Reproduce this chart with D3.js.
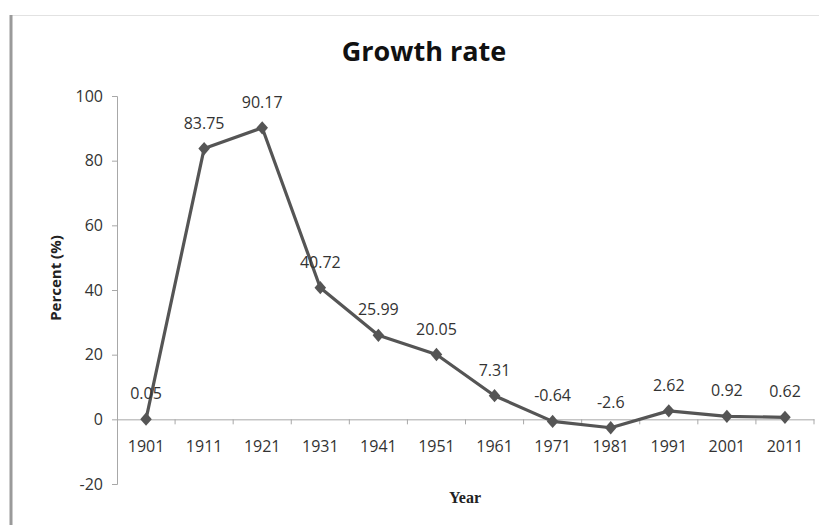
<!DOCTYPE html>
<html><head><meta charset="utf-8">
<script src="https://cdn.jsdelivr.net/npm/d3@7"></script>
<style>body{margin:0;background:#fff}svg{display:block}</style>
</head><body>
<svg id="c" width="819" height="525"></svg>
<script>
const years = ["1901","1911","1921","1931","1941","1951","1961","1971","1981","1991","2001","2011"];
const growth = [0.05,83.75,90.17,40.72,25.99,20.05,7.31,-0.64,-2.6,2.62,0.92,0.62];
const yTicks = [-20,0,20,40,60,80,100];

const svg = d3.select("#c");
const font = "'Open Sans','Noto Sans',sans-serif";
// frame
svg.append("line").attr("x1",11).attr("x2",819).attr("y1",15.5).attr("y2",15.5).attr("stroke","#e2e2e2").attr("stroke-width",1);
svg.append("line").attr("x1",11).attr("x2",11).attr("y1",15).attr("y2",525).attr("stroke","#9a9a9a").attr("stroke-width",3);

const x = d3.scaleBand().domain(years).range([117,814]);
const y = d3.scaleLinear().domain([-20,100]).range([484,96]);

const ya = svg.append("g").attr("transform","translate(117,0)")
  .call(d3.axisLeft(y).tickValues(yTicks).tickFormat(d=>String(d)).tickSize(5).tickPadding(9));
ya.select(".domain").attr("stroke","#a8a8a8");
ya.selectAll(".tick line").attr("stroke","#a8a8a8");
ya.selectAll(".tick text").attr("font-family",font).attr("font-size",16).attr("fill","#333");

const xa = svg.append("g").attr("transform",`translate(0,${y(0)})`)
  .call(d3.axisBottom(x).tickSize(0).tickPadding(21));
xa.select(".domain").attr("stroke","#a8a8a8");
xa.selectAll(".tick text").attr("font-family",font).attr("font-size",16).attr("fill","#333");
// tick marks between categories
const bounds = years.map(d=>x(d)).concat([x.range()[1]]).slice(1);
xa.selectAll(".sep").data(bounds).enter().append("line")
  .attr("x1",d=>d).attr("x2",d=>d).attr("y1",0).attr("y2",5).attr("stroke","#a8a8a8");

const cx = d => x(d) + x.bandwidth()/2;
const line = d3.line().x((d,i)=>cx(years[i])).y(d=>y(d));
svg.append("path").datum(growth).attr("d",line).attr("fill","none")
  .attr("stroke","#555").attr("stroke-width",3.2).attr("stroke-linejoin","round");
svg.selectAll(".pt").data(growth).enter().append("path")
  .attr("d",d3.symbol(d3.symbolDiamond2,85)())
  .attr("transform",(d,i)=>`translate(${cx(years[i])},${y(d)}) scale(1,1.15)`)
  .attr("fill","#555");
svg.selectAll(".lbl").data(growth).enter().append("text")
  .attr("x",(d,i)=>cx(years[i])).attr("y",d=>y(d)-20)
  .attr("text-anchor","middle").attr("font-family",font).attr("font-size",16).attr("fill","#333")
  .text(d=>String(d));

svg.append("text").attr("x",424).attr("y",61).attr("text-anchor","middle")
  .attr("font-family",font).attr("font-weight","bold").attr("font-size",27).attr("fill","#111").text("Growth rate");
svg.append("text").attr("transform","translate(61,278) rotate(-90)").attr("text-anchor","middle")
  .attr("font-family",font).attr("font-weight","bold").attr("font-size",15).attr("fill","#222").text("Percent (%)");
svg.append("text").attr("x",465).attr("y",503).attr("text-anchor","middle")
  .attr("font-family","'Liberation Serif','DejaVu Serif',serif").attr("font-weight","bold").attr("font-size",16).attr("fill","#222").text("Year");
</script>
</body></html>
